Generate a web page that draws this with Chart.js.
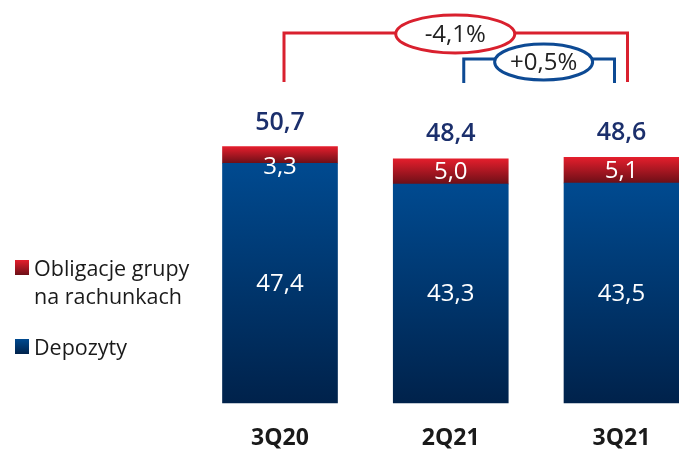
<!DOCTYPE html>
<html>
<head>
<meta charset="utf-8">
<script src="https://cdn.jsdelivr.net/npm/chart.js@4/dist/chart.umd.min.js"></script>
<style>
  html, body { margin: 0; padding: 0; background: #ffffff; }
  #wrap { width: 679px; height: 452px; }
</style>
</head>
<body>
<div id="wrap"><canvas id="c" width="679" height="452"></canvas></div>
<script>
// Quarterly data (PLN bn)
const categories = ['3Q20', '2Q21', '3Q21'];
const deposits   = [47.4, 43.3, 43.5];
const bonds      = [3.3, 5.0, 5.1];
const totals     = [50.7, 48.4, 48.6];
const bondsLabel    = ['Obligacje grupy', 'na rachunkach'];
const depositsLabel = ['Depozyty'];
// Change markers: from category index -> to category index
const changeFrom = [0, 1];
const changeTo   = [2, 2];
const changeText = ['-4,1%', '+0,5%'];

const FONT = '"Open Sans", "DejaVu Sans", sans-serif';
const fmt = v => v.toFixed(1).replace('.', ',');

const RED_TOP = '#e41e2c', RED_BOT = '#6c0f17';
const BLUE_TOP = '#004a90', BLUE_BOT = '#00224b';

function segmentFill(c, lowArr, highArr, topColor, botColor, fallback) {
  const chart = c.chart;
  if (!chart.chartArea || c.type !== 'data') return fallback;
  const y = chart.scales.y;
  const i = c.dataIndex;
  const low = lowArr ? lowArr[i] : 0;
  const high = low + highArr[i];
  const g = chart.ctx.createLinearGradient(0, y.getPixelForValue(high), 0, y.getPixelForValue(low));
  g.addColorStop(0, topColor);
  g.addColorStop(1, botColor);
  return g;
}

const overlay = {
  id: 'overlay',
  afterDatasetsDraw(chart) {
    const ctx = chart.ctx;
    const x = chart.scales.x, y = chart.scales.y;
    ctx.save();
    ctx.textAlign = 'center';

    // values inside the segments
    ctx.fillStyle = '#ffffff';
    ctx.font = '400 24px ' + FONT;
    ctx.textBaseline = 'middle';
    categories.forEach((cat, i) => {
      const cx = x.getPixelForValue(i);
      const b0 = y.getPixelForValue(0), b1 = y.getPixelForValue(deposits[i]);
      ctx.fillText(fmt(deposits[i]), cx, (b0 + b1) / 2 + 1);
      const r0 = b1, r1 = y.getPixelForValue(deposits[i] + bonds[i]);
      let cy = (r0 + r1) / 2;
      if (r0 - r1 < 20) cy = r1 + 20;
      ctx.fillText(fmt(bonds[i]), cx, cy + 1);
    });

    // totals above the bars
    ctx.fillStyle = '#1b2f6c';
    ctx.font = '600 25px ' + FONT;
    ctx.textBaseline = 'alphabetic';
    categories.forEach((cat, i) => {
      const cx = x.getPixelForValue(i);
      ctx.fillText(fmt(totals[i]), cx, y.getPixelForValue(totals[i]) - 17);
    });

    // category labels
    ctx.fillStyle = '#1a1a1a';
    ctx.font = '700 23px ' + FONT;
    categories.forEach((cat, i) => {
      ctx.fillText(cat, x.getPixelForValue(i), 445);
    });

    // legend
    ctx.textAlign = 'left';
    ctx.font = '400 21.5px ' + FONT;
    const legendItems = [
      { lines: bondsLabel, top: RED_TOP, bot: RED_BOT, y: 260 },
      { lines: depositsLabel, top: BLUE_TOP, bot: BLUE_BOT, y: 339 }
    ];
    legendItems.forEach(it => {
      const g = ctx.createLinearGradient(0, it.y, 0, it.y + 15);
      g.addColorStop(0, it.top);
      g.addColorStop(1, it.bot);
      ctx.fillStyle = g;
      ctx.fillRect(15, it.y, 14, 15);
      ctx.fillStyle = '#1a1a1a';
      it.lines.forEach((ln, k) => ctx.fillText(ln, 34, it.y + 16 + k * 28));
    });

    // change brackets
    const style = [
      { color: '#d9202e', top: 33, bottom: 82, dl: 4, dr: 6, rx: 59.5, ry: 19, cy: 34, shift: -0.5 },
      { color: '#0d4a94', top: 59, bottom: 83, dl: 13, dr: -7, rx: 49, ry: 18, cy: 62, shift: 4.5 }
    ];
    changeText.forEach((txt, k) => {
      const s = style[k];
      const xl = x.getPixelForValue(changeFrom[k]) + s.dl;
      const xr = x.getPixelForValue(changeTo[k]) + s.dr;
      ctx.strokeStyle = s.color;
      ctx.lineWidth = 3;
      ctx.beginPath();
      ctx.moveTo(xl, s.bottom);
      ctx.lineTo(xl, s.top);
      ctx.lineTo(xr, s.top);
      ctx.lineTo(xr, s.bottom);
      ctx.stroke();
      const ex = (xl + xr) / 2 + s.shift;
      ctx.beginPath();
      ctx.ellipse(ex, s.cy, s.rx, s.ry, 0, 0, Math.PI * 2);
      ctx.fillStyle = '#ffffff';
      ctx.fill();
      ctx.stroke();
      ctx.fillStyle = '#222222';
      ctx.font = '400 24px ' + FONT;
      ctx.textAlign = 'center';
      ctx.textBaseline = 'middle';
      ctx.fillText(txt, ex, s.cy + 1);
    });
    ctx.restore();
  }
};

new Chart(document.getElementById('c'), {
  type: 'bar',
  data: {
    labels: categories,
    datasets: [
      {
        label: depositsLabel.join(' '),
        data: deposits,
        backgroundColor: c => segmentFill(c, null, deposits, BLUE_TOP, BLUE_BOT, BLUE_TOP),
        barThickness: 115,
        clip: false
      },
      {
        label: bondsLabel.join(' '),
        data: bonds,
        backgroundColor: c => segmentFill(c, deposits, bonds, RED_TOP, RED_BOT, RED_TOP),
        barThickness: 115,
        clip: false
      }
    ]
  },
  options: {
    responsive: false,
    animation: false,
    devicePixelRatio: 1,
    layout: { padding: { left: 280, right: 57.5, top: 49, bottom: 49 } },
    plugins: { legend: { display: false }, tooltip: { enabled: false } },
    scales: {
      x: { display: false, stacked: true, offset: false },
      y: { display: false, stacked: true, min: 0, max: 70 }
    }
  },
  plugins: [overlay]
});
</script>
</body>
</html>
